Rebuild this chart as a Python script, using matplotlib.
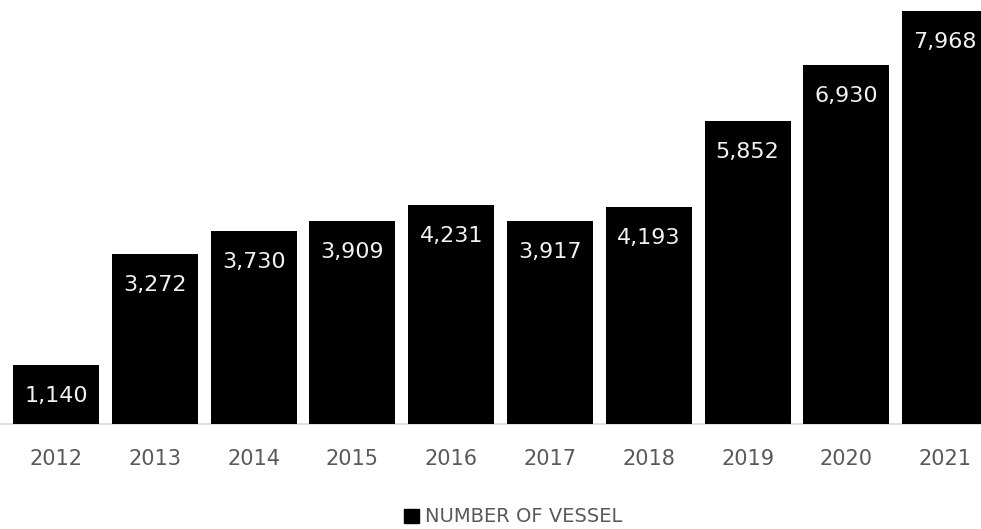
import matplotlib.pyplot as plt
from matplotlib.patches import Patch

plt.rcParams['font.family'] = ['DejaVu Sans']

years = ['2012', '2013', '2014', '2015', '2016', '2017', '2018', '2019', '2020', '2021']
vessels = [1140, 3272, 3730, 3909, 4231, 3917, 4193, 5852, 6930, 7968]

fig = plt.figure(figsize=(9.81, 5.29), dpi=100)
ax = fig.add_axes([0, 105 / 529, 1, 424 / 529])

x = range(len(years))
ax.bar(x, vessels, width=0.87, color='black', zorder=3)

for i, v in enumerate(vessels):
    ax.annotate(f"{v:,}", (i, v), xytext=(0, -31), textcoords='offset pixels',
                ha='center', va='center', color='#f2f2f2', fontsize=16,
                annotation_clip=False)

ax.set_xlim(-56 / 98.8, (981 - 56) / 98.8)
ax.set_ylim(0, 424 / 0.05183)
ax.set_xticks(list(x))
ax.set_xticklabels(years, fontsize=15, color='#595959')
ax.tick_params(axis='x', length=0, pad=18)
ax.set_yticks([])
for s in ['top', 'right', 'left']:
    ax.spines[s].set_visible(False)
ax.spines['bottom'].set_color('#d9d9d9')
ax.spines['bottom'].set_linewidth(1.2)
ax.patch.set_alpha(0)

fig.legend(handles=[Patch(color='black', label='NUMBER OF VESSEL')],
           loc='center', bbox_to_anchor=(513 / 981, 1 - 517 / 529),
           frameon=False, fontsize=14, labelcolor='#595959',
           handlelength=0.75, handleheight=0.75, handletextpad=0.3)

fig.savefig('out.png', dpi=100)
